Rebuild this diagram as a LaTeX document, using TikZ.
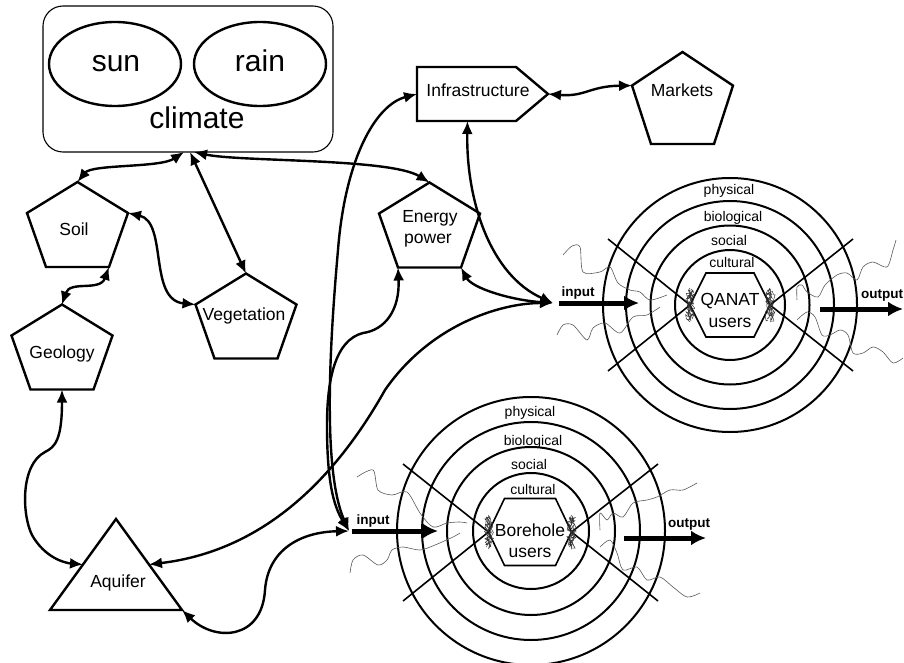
\documentclass[tikz,border=0pt]{standalone}
\usepackage{fontspec}
\setmainfont{Liberation Sans}
\usetikzlibrary{arrows.meta,calc,shapes.geometric,decorations.pathmorphing}

\newcommand\drawpent[1]{%
  \coordinate (#1-l) at ($(#1.north west)!0.365!(#1.south west)$);
  \coordinate (#1-r) at ($(#1.north east)!0.365!(#1.south east)$);
  \coordinate (#1-bl) at ($(#1.south west)+(19,0)$);
  \coordinate (#1-br) at ($(#1.south east)+(-19,0)$);
  \draw[shp] (#1.north) -- (#1-r) -- (#1-br) -- (#1-bl) -- (#1-l) -- cycle;}
\newcommand\drawhex[2]{%
  \draw[hexline] (#1.west) -- ($(#1.north west)+(#2,0)$) -- ($(#1.north east)+(-#2,0)$) -- (#1.east)
   -- ($(#1.south east)+(-#2,0)$) -- ($(#1.south west)+(#2,0)$) -- cycle;}
\newcommand\scrib[1]{%
  \foreach \dx/\len in {-2/15,0/17,2/14,1/16,-1/13,0.5/15}{
    \draw[scribble] ($(#1)+(\dx,-\len)$) -- ($(#1)+(\dx,\len)$);}}

\begin{document}
\begin{tikzpicture}[x=1pt,y=-1pt,
  every node/.style={inner sep=0pt, outer sep=0pt},
  shp/.style={line width=2.4pt, line join=miter},
  hexline/.style={line width=1.6pt},
  pent/.style={minimum width=101pt, minimum height=#1},
  pent/.default=85pt,
  conn/.style={line width=2.4pt, {Latex[length=13pt,width=11pt]}-{Latex[length=13pt,width=11pt]}},
  bigarrow/.style={line width=5pt, -{Latex[length=15pt,width=15pt]}},
  wave/.style={black!65, line width=0.6pt},
  scribble/.style={black!80, line width=0.5pt, decorate, decoration={random steps, segment length=2pt, amplitude=3pt}},
  ring/.style={line width=2pt},
  cross/.style={line width=1.6pt},
  lab/.style={anchor=base, font=\fontsize{17.5}{22}\selectfont},
  biglab/.style={anchor=base, font=\fontsize{30}{34}\selectfont},
  ringlab/.style={anchor=base, font=\fontsize{14}{16}\selectfont},
  iolab/.style={anchor=base, font=\bfseries\fontsize{13.5}{16}\selectfont},
  oval/.style={draw, ellipse, line width=2.4pt, minimum width=132pt, minimum height=84pt},
]
\useasboundingbox (0,0) rectangle (904,663);

% ---------- climate ----------
\node[draw, line width=1.1pt, rounded corners=20pt, minimum width=290pt, minimum height=146pt] (climate) at (188,79) {};
\node[oval] (sun) at (115,64) {};
\node[oval] (rain) at (260,64) {};
\node[biglab] at (116,72) {sun};
\node[biglab] at (260,72) {rain};
\node[biglab] at (197,129) {climate};

% ---------- pentagons ----------
\node[pent] (soil) at (77.5,224.5) {};
\node[pent] (geology) at (62,347) {};
\node[pent] (veg) at (246,316) {};
\node[pent] (energy) at (429.5,225) {};
\node[pent=92pt] (markets) at (682.5,98) {};
\drawpent{soil}\drawpent{geology}\drawpent{veg}\drawpent{energy}\drawpent{markets}
\node[lab] at (74,235) {Soil};
\node[lab] at (62,358) {Geology};
\node[lab] at (244,320) {Vegetation};
\node[lab] at (430,222) {Energy};
\node[lab] at (428,243) {power};
\node[lab] at (682,97) {Markets};

% ---------- infrastructure ----------
\node[minimum width=131pt, minimum height=54pt] (infra) at (482.5,94) {};
\draw[shp] (infra.north west) -- ($(infra.north east)+(-32,0)$) -- (infra.east) -- ($(infra.south east)+(-32,0)$) -- (infra.south west) -- cycle;
\node[lab] at (478,97) {Infrastructure};

% ---------- aquifer ----------
\node[minimum width=132pt, minimum height=91pt] (aquifer) at (116,564.5) {};
\draw[shp] (aquifer.south west) -- (aquifer.north) -- (aquifer.south east) -- cycle;
\coordinate (aq-l) at ($(aquifer.south west)!0.5!(aquifer.north)$);
\coordinate (aq-r) at ($(aquifer.south east)!0.5!(aquifer.north)$);
\node[lab] at (118,587) {Aquifer};

% ---------- QANAT target ----------
\coordinate (qc) at (730,305);
\foreach \r in {55,79.5,104,127}{\draw[ring] (qc) circle[radius=\r];}
\node[ringlab] at (729,194) {physical};
\node[ringlab] at (733,221) {biological};
\node[ringlab] at (729,245) {social};
\node[ringlab] at (732,267) {cultural};
\node[minimum width=80pt, minimum height=64pt, fill=white] (qanat) at (730,305) {};
\drawhex{qanat}{16}
\node[lab] at (730,305) {QANAT};
\node[lab] at (730,327) {users};
\draw[cross] (608,239) -- (qanat.west) -- (608,371);
\draw[cross] (853,239) -- (qanat.east) -- (853,371);
\scrib{qanat.west}\scrib{qanat.east}

% ---------- Borehole target ----------
\coordinate (bc) at (531,531);
\foreach \r in {58,84,109,134}{\draw[ring] (bc) circle[radius=\r];}
\node[ringlab] at (530,416) {physical};
\node[ringlab] at (533,445) {biological};
\node[ringlab] at (529,469) {social};
\node[ringlab] at (533,494) {cultural};
\node[minimum width=83pt, minimum height=67pt, fill=white] (bore) at (530,532) {};
\drawhex{bore}{16}
\node[lab] at (530,536) {Borehole};
\node[lab] at (530,557) {users};
\draw[cross] (403,464) -- (bore.west) -- (403,601);
\draw[cross] (658,464) -- (bore.east) -- (658,601);
\scrib{bore.west}\scrib{bore.east}

% ---------- waves ----------
\draw[wave] plot[smooth] coordinates {(563,255) (572,246) (580,247) (583,272) (600,272) (610,267) (618,283) (630,290) (640,292) (650,300) (667,295)};
\draw[wave] plot[smooth] coordinates {(557,335) (563,325) (573,325) (587,340) (593,328) (605,323) (620,333) (633,317) (647,315) (660,307)};
\draw[wave] plot[smooth] coordinates {(797,300) (797,287) (802,285) (807,292) (818,297) (825,285) (837,275) (847,273) (857,280) (863,267) (873,262) (887,267) (893,250) (896,240)};
\draw[wave] plot[smooth] coordinates {(797,320) (807,312) (815,317) (822,335) (830,335) (840,330) (848,335) (853,353) (863,353) (873,347) (883,352) (893,363) (903,358)};
\draw[wave] plot[smooth] coordinates {(357,477) (373,470) (378,490) (392,495) (407,492) (420,513) (433,527) (447,523) (460,522) (467,523)};
\draw[wave] plot[smooth] coordinates {(350,573) (353,560) (363,555) (378,565) (387,560) (392,550) (403,547) (420,550) (435,545) (453,537) (460,533)};
\draw[wave] plot[smooth] coordinates {(600,530) (600,513) (607,520) (613,513) (623,517) (633,503) (647,500) (657,497) (670,490) (683,490) (697,483)};
\draw[wave] plot[smooth] coordinates {(600,547) (610,540) (617,553) (623,570) (637,567) (647,580) (660,577) (673,587) (687,597) (700,593)};

% ---------- input / output arrows ----------
\coordinate (qinA) at (559,303); \coordinate (qinB) at (639,303);
\coordinate (qoutA) at (820,309); \coordinate (qoutB) at (903,309);
\coordinate (binA) at (352,531); \coordinate (binB) at (438,531);
\coordinate (boutA) at (624,538); \coordinate (boutB) at (706,538);
\draw[bigarrow] (qinA) -- (qinB);
\draw[bigarrow] (qoutA) -- (qoutB);
\draw[bigarrow] (binA) -- (binB);
\draw[bigarrow] (boutA) -- (boutB);
\node[iolab] at (578,296) {input};
\node[iolab] at (882,298) {output};
\node[iolab] at (373,524) {input};
\node[iolab] at (689,527) {output};

% ---------- connectors ----------
\coordinate (qin) at (553,303);
\coordinate (bin) at (349,531);
\draw[conn] (soil.north) .. controls (92,164) and (160,168) .. ($(climate.south)+(-4,0)$);
\draw[conn] ($(climate.south)+(2,0)$) -- (veg.north);
\draw[conn] ($(climate.south)+(6,0)$) .. controls (240,162) and (390,158) .. (energy.north);
\draw[conn] (soil-r) .. controls (168,222) and (148,300) .. (veg-l);
\draw[conn] (soil-br) .. controls (100,292) and (70,280) .. (geology.north);
\draw[conn] (geology.south) .. controls (62,440) and (55,447) .. (45,452) .. controls (20,465) and (22,515) .. (32,535) .. controls (45,558) and (65,563) .. (aq-l);
\draw[conn] (aq-r) .. controls (270,550) and (340,470) .. (385,390) .. controls (430,325) and (500,303) .. (qin);
\draw[conn] (energy-br) .. controls (472,288) and (510,300) .. (qin);
\draw[conn] ($(infra.south)+(-15,0)$) .. controls (466,200) and (490,275) .. (qin);
\draw[conn] (infra.east) .. controls (585,97) and (590,86) .. (markets-l);
\draw[conn] (infra.west) .. controls (375,105) and (345,160) .. (338,250) .. controls (330,340) and (322,470) .. (bin);
\draw[conn] (energy-bl) .. controls (400,310) and (385,330) .. (363,333) .. controls (335,340) and (327,380) .. (327,425) .. controls (327,480) and (333,505) .. (bin);
\draw[conn] (aquifer.south east) .. controls (215,642) and (262,640) .. (265,590) .. controls (268,550) and (300,532) .. (bin);
\end{tikzpicture}
\end{document}
